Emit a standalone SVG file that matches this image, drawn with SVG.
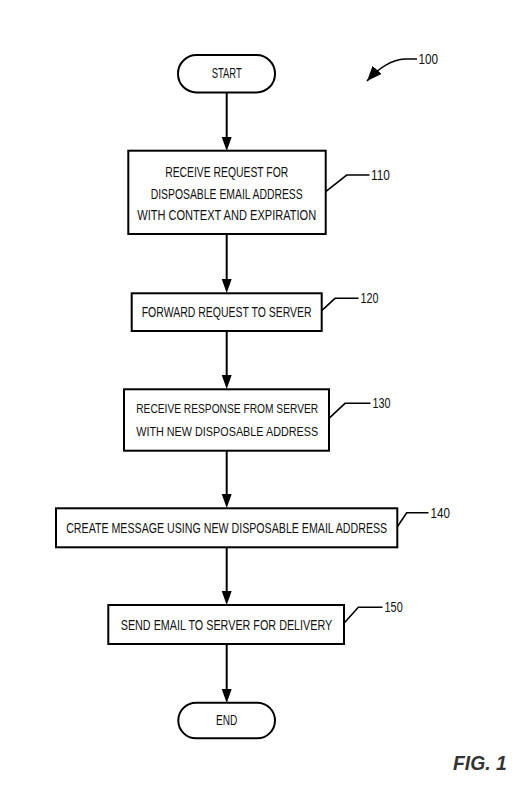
<svg xmlns="http://www.w3.org/2000/svg" width="531" height="808" viewBox="0 0 531 808">
<style>
.box{fill:#fff;stroke:#000;stroke-width:2}
.t{font-family:"Liberation Sans",Arial,sans-serif;font-size:14px;fill:#111}
.t13{font-size:13px}
.lbl{font-family:"Liberation Sans",Arial,sans-serif;font-size:14px;fill:#111}
.con{fill:none;stroke:#000;stroke-width:2}
.lead{fill:none;stroke:#000;stroke-width:1.6}
</style>
<defs>
<marker id="ah2" markerUnits="userSpaceOnUse" markerWidth="15" markerHeight="12" viewBox="0 0 15 12" refX="15" refY="6" orient="auto">
<path d="M0,0 L15,6 L0,12 Z" fill="#000"/>
</marker>
</defs>
<rect width="531" height="808" fill="#fff"/>
<g id="connectors">
<path class="con" d="M226.7,93 V137"/>
<path d="M221.7,137 h10 l-5,14 z"/>
<path class="con" d="M226.7,234 V279"/>
<path d="M221.7,279 h10 l-5,14 z"/>
<path class="con" d="M226.7,331 V375"/>
<path d="M221.7,375 h10 l-5,14 z"/>
<path class="con" d="M226.7,451 V494"/>
<path d="M221.7,494 h10 l-5,14 z"/>
<path class="con" d="M226.7,547 V591"/>
<path d="M221.7,591 h10 l-5,14 z"/>
<path class="con" d="M226.7,644 V689"/>
<path d="M221.7,689 h10 l-5,14 z"/>
</g>
<g id="ref100">
<path class="lead" d="M417,59 H405 Q386,60 367,81" marker-end="url(#ah2)"/>
<text class="lbl" x="418.5" y="64" textLength="19.5" lengthAdjust="spacingAndGlyphs">100</text>
</g>
<g id="start">
<rect class="box" x="178" y="55" width="97" height="37.5" rx="18.5"/>
<text class="t" x="211.7" y="78.3" textLength="30" lengthAdjust="spacingAndGlyphs">START</text>
</g>
<g id="n110">
<rect class="box" x="128.3" y="150.7" width="197.4" height="83.3"/>
<text class="t" x="165.2" y="176.7" textLength="123" lengthAdjust="spacingAndGlyphs">RECEIVE REQUEST FOR</text>
<text class="t" x="150.7" y="199" textLength="152" lengthAdjust="spacingAndGlyphs">DISPOSABLE EMAIL ADDRESS</text>
<text class="t" x="137.2" y="220.3" textLength="179" lengthAdjust="spacingAndGlyphs">WITH CONTEXT AND EXPIRATION</text>
<path class="lead" d="M325.7,191.7 L346.7,175 H369.5"/>
<text class="lbl" x="371" y="180" textLength="19" lengthAdjust="spacingAndGlyphs">110</text>
</g>
<g id="n120">
<rect class="box" x="131.7" y="293.3" width="190" height="37.7"/>
<text class="t" x="141.7" y="317.2" textLength="170" lengthAdjust="spacingAndGlyphs">FORWARD REQUEST TO SERVER</text>
<path class="lead" d="M321.7,310.7 L335,298.3 H358.5"/>
<text class="lbl" x="360.5" y="303.3" textLength="18" lengthAdjust="spacingAndGlyphs">120</text>
</g>
<g id="n130">
<rect class="box" x="124" y="389.3" width="205" height="61.4"/>
<text class="t t13" x="136.2" y="413" textLength="182" lengthAdjust="spacingAndGlyphs">RECEIVE RESPONSE FROM SERVER</text>
<text class="t t13" x="136.2" y="436.3" textLength="182" lengthAdjust="spacingAndGlyphs">WITH NEW DISPOSABLE ADDRESS</text>
<path class="lead" d="M329,418.3 L345,403.3 H370.5"/>
<text class="lbl" x="372.5" y="408.3" textLength="18" lengthAdjust="spacingAndGlyphs">130</text>
</g>
<g id="n140">
<rect class="box" x="56" y="508.3" width="341.3" height="39"/>
<text class="t" x="66.2" y="533.1" textLength="321" lengthAdjust="spacingAndGlyphs">CREATE MESSAGE USING NEW DISPOSABLE EMAIL ADDRESS</text>
<path class="lead" d="M397.3,526.7 L406.7,512.7 H428.5"/>
<text class="lbl" x="430.5" y="517.7" textLength="19.5" lengthAdjust="spacingAndGlyphs">140</text>
</g>
<g id="n150">
<rect class="box" x="108.3" y="605" width="235.7" height="39"/>
<text class="t" x="120.7" y="629.8" textLength="211.6" lengthAdjust="spacingAndGlyphs">SEND EMAIL TO SERVER FOR DELIVERY</text>
<path class="lead" d="M344,623.3 L358.3,607.3 H382.5"/>
<text class="lbl" x="384.5" y="612.3" textLength="18.2" lengthAdjust="spacingAndGlyphs">150</text>
</g>
<g id="end">
<rect class="box" x="178.3" y="702.7" width="96.7" height="35.6" rx="17.8"/>
<text class="t" x="216" y="724.8" textLength="21.3" lengthAdjust="spacingAndGlyphs">END</text>
</g>
<text x="453" y="770" font-family="Liberation Sans,Arial,sans-serif" font-size="20" font-style="italic" font-weight="bold" fill="#333" textLength="53.7" lengthAdjust="spacingAndGlyphs">FIG. 1</text>
</svg>
